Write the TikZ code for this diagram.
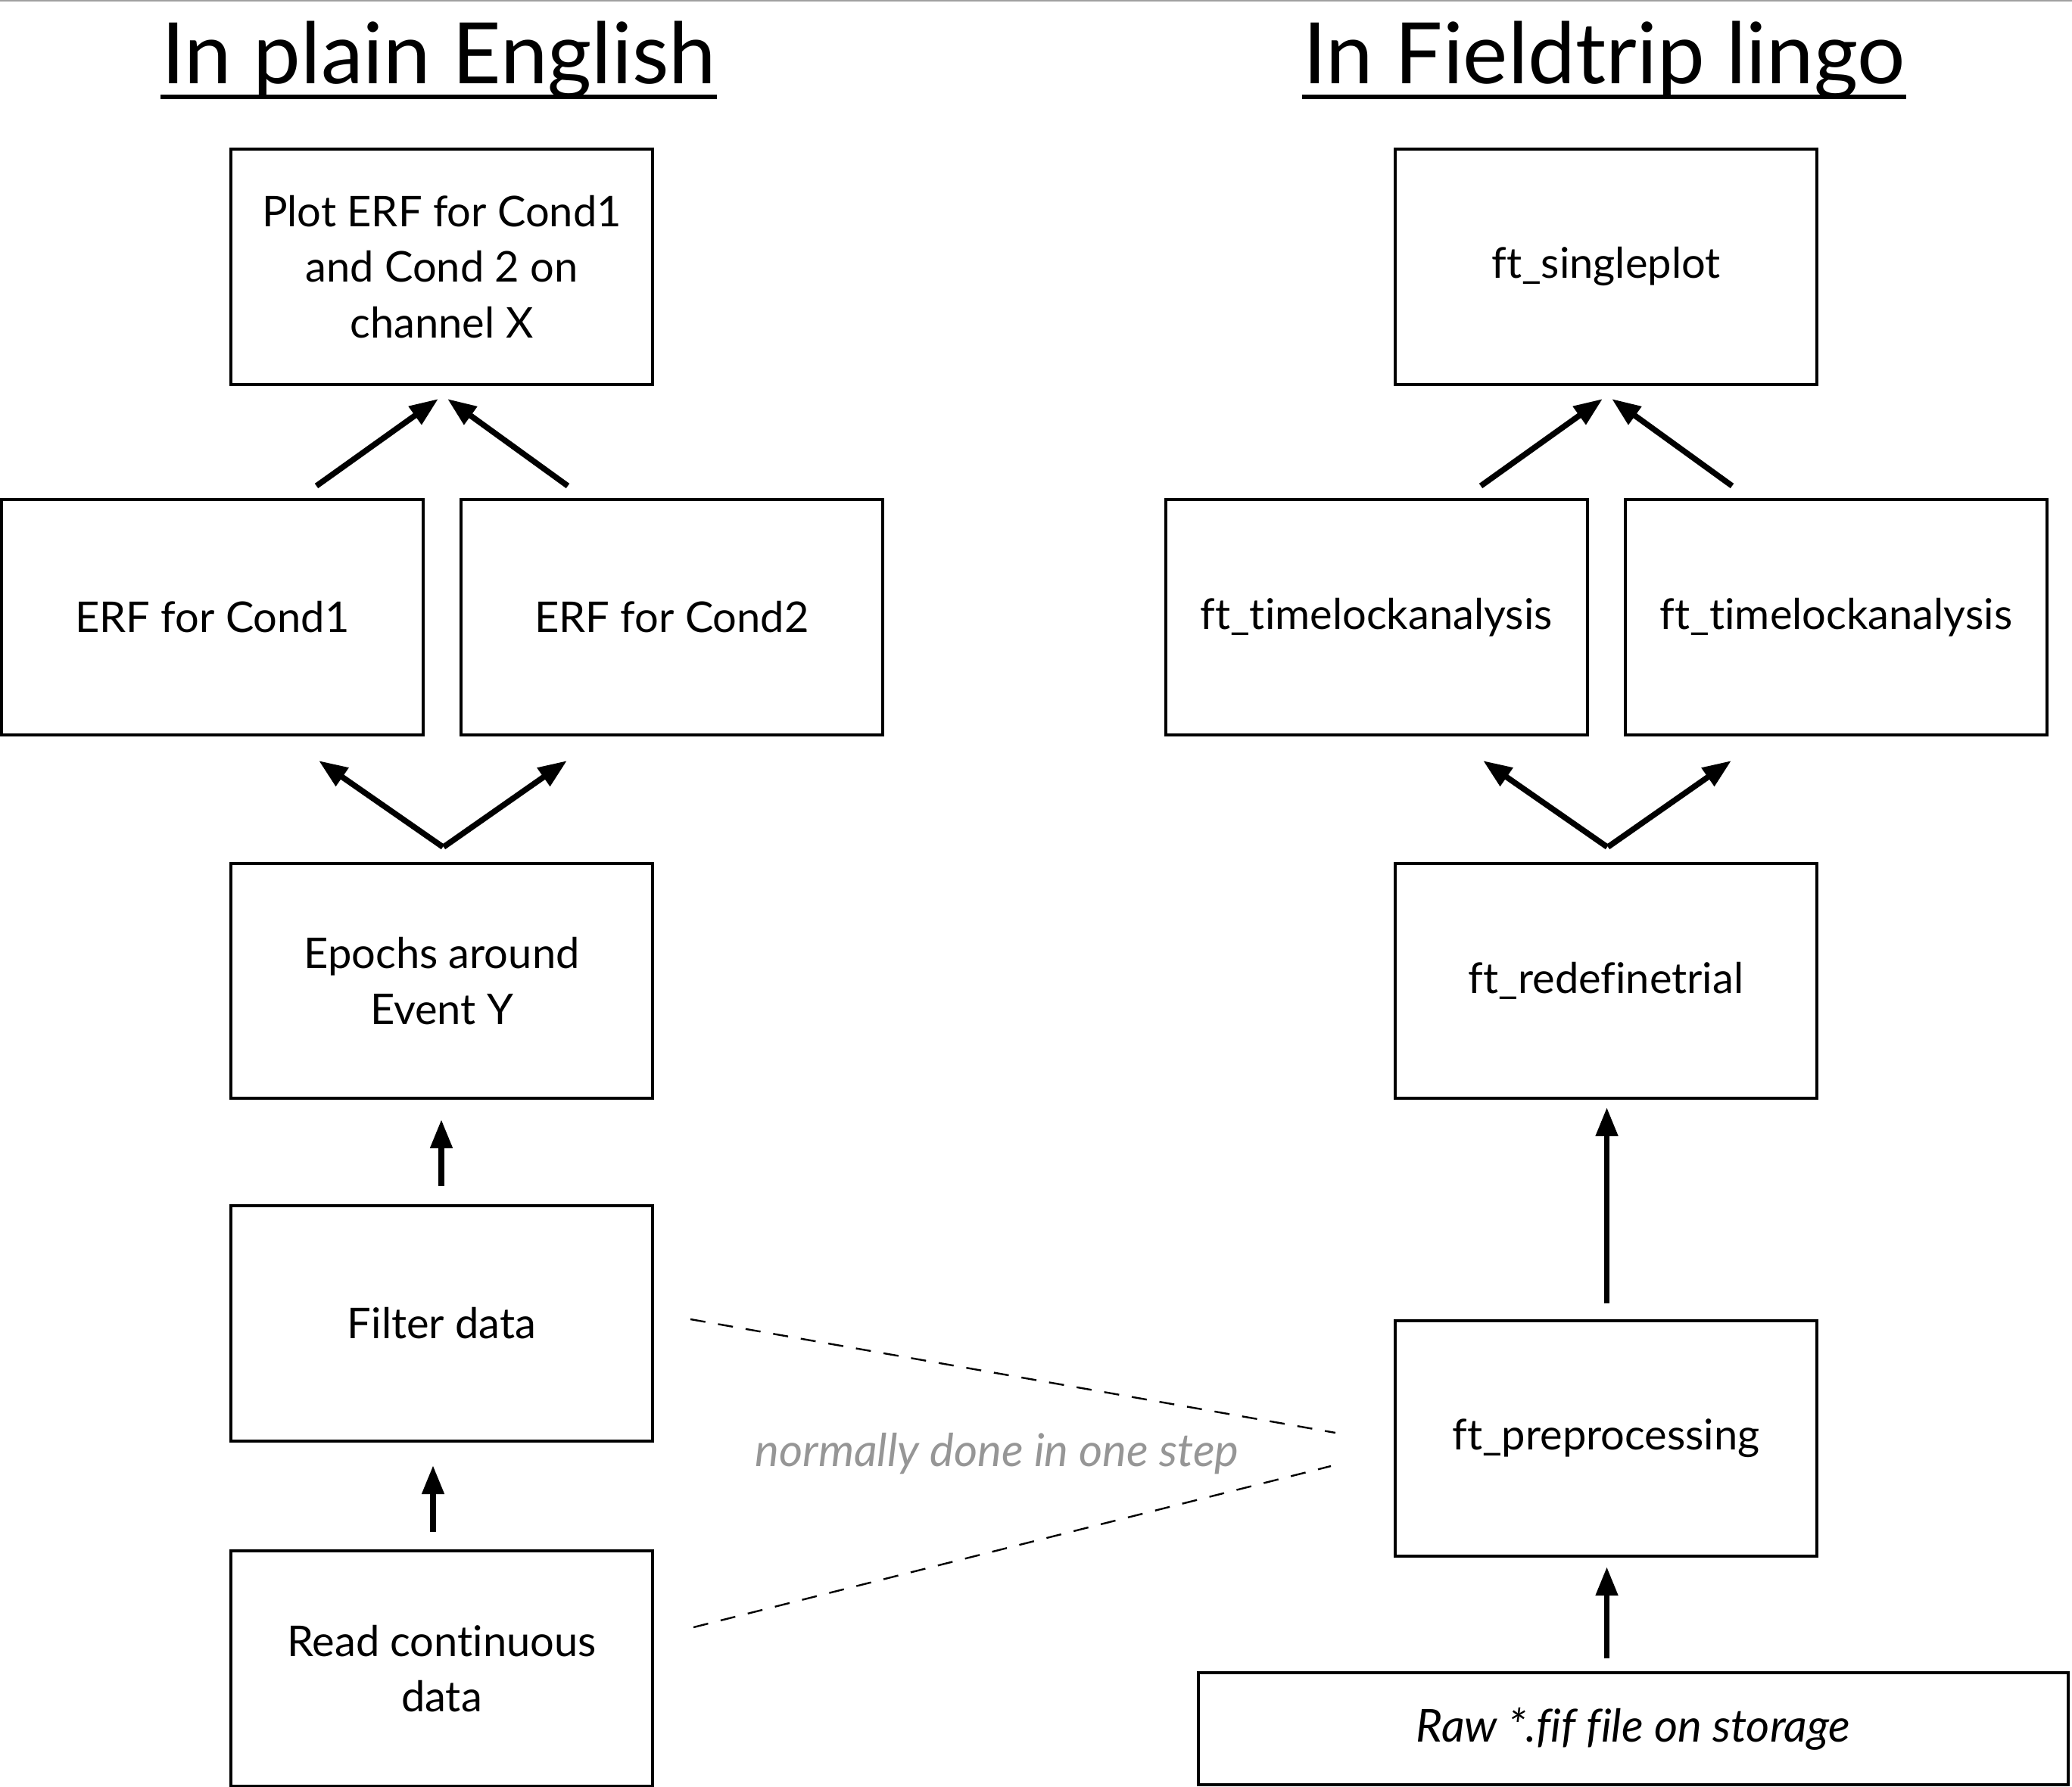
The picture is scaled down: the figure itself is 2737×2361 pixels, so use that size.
\documentclass[tikz,border=0pt]{standalone}
\usepackage{fontspec}
\setmainfont{Lato}[Ligatures={NoCommon,NoRare,NoContextual}]
\usetikzlibrary{arrows.meta}
\definecolor{notegray}{RGB}{150,150,150}
\definecolor{topgray}{RGB}{160,160,160}
\begin{document}
\begin{tikzpicture}[x=0.25pt,y=-0.25pt,
  box/.style={draw,line width=1pt,minimum width=139.25pt,minimum height=77.6pt,inner sep=0pt,align=center,font=\fontsize{14}{18.3}\selectfont},
  flow/.style={line width=1.9pt,-{Triangle[length=9.5pt,width=7pt]}},
  title/.style={anchor=base,inner sep=0pt,font=\fontsize{28}{32}\selectfont},
  uline/.style={line width=1.5pt},
  link/.style={line width=0.6pt,dash pattern=on 5pt off 4.25pt},
  note/.style={text=notegray,font=\fontsize{15}{18}\selectfont\itshape}]
\useasboundingbox (0,0) rectangle (2737,2361);
\fill[white] (0,0) rectangle (2737,2361);
\draw[topgray,line width=0.5pt] (0,1) -- (2737,1);
% titles
\node[title] (tl) at (579.5,111) {In plain English};
\node[title] (tr) at (2119,111) {In Fieldtrip lingo};
\draw[uline] ([yshift=-4.25pt]tl.base west) -- ([yshift=-4.25pt]tl.base east);
\draw[uline] ([yshift=-4.25pt]tr.base west) -- ([yshift=-4.25pt]tr.base east);
% left column
\node[box] (plot) at (583.5,352.5) {Plot ERF for Cond1\\and Cond 2 on\\channel X};
\node[box] (c1) at (280.5,815.5) {ERF for Cond1};
\node[box] (c2) at (887.5,815.5) {ERF for Cond2};
\node[box] (ep) at (583.5,1296) {Epochs around\\Event Y};
\node[box] (fi) at (583.5,1748.5) {Filter data};
\node[box] (rd) at (583.5,2204.5) {Read continuous\\data};
% right column
\node[box] (sp) at (2121.5,352.5) {ft\_singleplot};
\node[box] (t1) at (1818,815.5) {ft\_timelockanalysis};
\node[box] (t2) at (2425.5,815.5) {ft\_timelockanalysis};
\node[box] (rt) at (2121.5,1296) {ft\_redefinetrial};
\node[box] (pp) at (2121.5,1900.5) {ft\_preprocessing};
\node[box,minimum width=287.25pt,minimum height=37pt,font=\fontsize{15}{18}\selectfont\itshape] (raw) at (2157.5,2284) {Raw *.fif file on storage};
% arrow coordinates
\coordinate (a1s) at (418,642);  \coordinate (a1e) at (579,527);
\coordinate (a2s) at (750,642);  \coordinate (a2e) at (591,527);
\coordinate (a3s) at (585,1119); \coordinate (a3e) at (421,1005);
\coordinate (a4s) at (586,1119); \coordinate (a4e) at (749,1005);
\coordinate (a5s) at (583,1567); \coordinate (a5e) at (583,1479);
\coordinate (a6s) at (572,2024); \coordinate (a6e) at (572,1936);
\coordinate (b1s) at (1956,642);  \coordinate (b1e) at (2117,527);
\coordinate (b2s) at (2288,642);  \coordinate (b2e) at (2129,527);
\coordinate (b3s) at (2123,1119); \coordinate (b3e) at (1959,1005);
\coordinate (b4s) at (2124,1119); \coordinate (b4e) at (2287,1005);
\coordinate (b5s) at (2122.5,1722); \coordinate (b5e) at (2122.5,1463);
\coordinate (b6s) at (2122.5,2191); \coordinate (b6e) at (2122.5,2070);
\foreach \p in {a1,a2,a3,a4,a5,a6,b1,b2,b3,b4,b5,b6}
  \draw[flow] (\p s) -- (\p e);
% dashed links
\coordinate (d1s) at (912,1743);  \coordinate (d1e) at (1764,1893);
\coordinate (d2s) at (916,2150);  \coordinate (d2e) at (1758,1937);
\draw[link] (d1s) -- (d1e);
\draw[link] (d2s) -- (d2e);
\node[note,anchor=base] (nt) at (1317,1937) {normally done in one step};
\end{tikzpicture}
\end{document}
